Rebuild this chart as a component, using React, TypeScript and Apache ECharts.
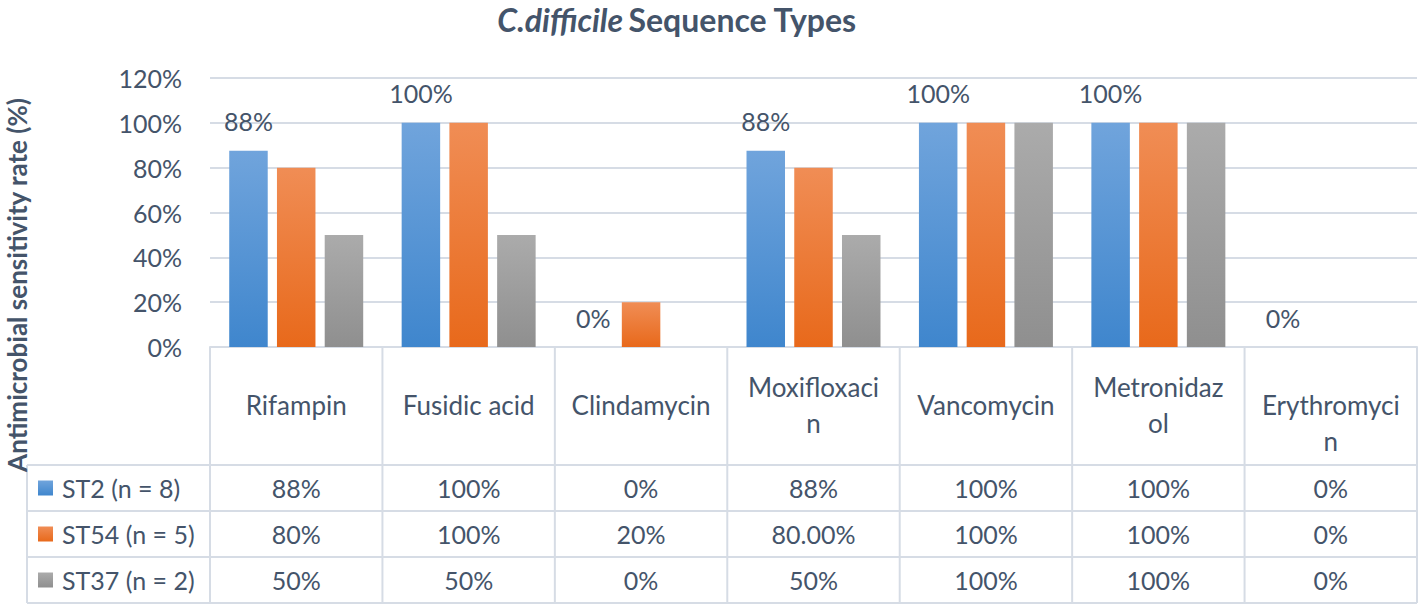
import React, { useEffect, useRef } from "react";
import * as echarts from "echarts";

const categories = ["Rifampin", "Fusidic acid", "Clindamycin", "Moxifloxaci\nn", "Vancomycin", "Metronidaz\nol", "\nErythromyci\nn"];
const seriesNames = ["ST2 (n = 8)", "ST54 (n = 5)", "ST37 (n = 2)"];
const st2 = [0.875, 1, 0, 0.875, 1, 1, 0];
const st54 = [0.8, 1, 0.2, 0.8, 1, 1, 0];
const st37 = [0.5, 0.5, 0, 0.5, 1, 1, 0];
const yTicks = [0, 0.2, 0.4, 0.6, 0.8, 1.0, 1.2];
// cells of the data table printed with decimals
const tableDecimals: Record<string, number> = { "1-3": 2 };

const W = 1419;
const H = 606;
const FONT = "Lato, 'Open Sans', sans-serif";
const TXT = "#44546a";
const LINE = "#d6dce5";

const pct = (v: number, d = 0) => (v * 100).toFixed(d) + "%";

const grad = (top: string, bottom: string) =>
  new echarts.graphic.LinearGradient(0, 0, 0, 1, [
    { offset: 0, color: top },
    { offset: 1, color: bottom },
  ]);

const colors = [
  ["#70a4dc", "#3f86cd"],
  ["#f08d55", "#e8691b"],
  ["#ababab", "#8f8f8f"],
];

export default function App() {
  const ref = useRef<HTMLDivElement>(null);
  useEffect(() => {
    if (!ref.current) return;
    const chart = echarts.init(ref.current, undefined, { renderer: "svg" });
    const gridLeft = 210;
    const gridRight = 2;
    const gridTop = 78;
    const axisY = 347;
    const plotW = W - gridLeft - gridRight;
    const colW = plotW / categories.length;
    const headerBottom = 465;
    const rowH = 46;
    const legendLeft = 27;
    const rowsData = [st2, st54, st37];
    const graphics: any[] = [];
    const tableBottom = headerBottom + rowH * rowsData.length;

    for (let i = 0; i <= categories.length; i++) {
      const x = gridLeft + colW * i;
      graphics.push({
        type: "line",
        shape: { x1: x, y1: axisY, x2: x, y2: tableBottom },
        style: { stroke: LINE, lineWidth: 2 },
        silent: true,
      });
    }
    graphics.push({
      type: "line",
      shape: { x1: legendLeft, y1: headerBottom, x2: legendLeft, y2: tableBottom },
      style: { stroke: LINE, lineWidth: 2 },
    });
    for (let r = 0; r <= rowsData.length; r++) {
      const y = headerBottom + rowH * r;
      graphics.push({
        type: "line",
        shape: { x1: legendLeft, y1: y, x2: W - gridRight, y2: y },
        style: { stroke: LINE, lineWidth: 2 },
      });
    }
    rowsData.forEach((row, r) => {
      const cy = headerBottom + rowH * r + rowH / 2;
      graphics.push({
        type: "rect",
        shape: { x: 38, y: cy - 7.5, width: 15, height: 15 },
        style: { fill: grad(colors[r][0], colors[r][1]) },
      });
      graphics.push({
        type: "text",
        x: 62,
        y: cy,
        style: {
          text: seriesNames[r],
          font: `25px ${FONT}`,
          fill: TXT,
          verticalAlign: "middle",
          align: "left",
        },
      });
      row.forEach((v, c) => {
        const d = tableDecimals[`${r}-${c}`] ?? 0;
        graphics.push({
          type: "text",
          x: gridLeft + colW * c + colW / 2,
          y: cy,
          style: {
            text: pct(v, d),
            font: `25px ${FONT}`,
            fill: TXT,
            align: "center",
            verticalAlign: "middle",
          },
        });
      });
    });
    graphics.push({
      type: "text",
      x: 17,
      y: 285,
      rotation: Math.PI / 2,
      style: {
        text: "Antimicrobial sensitivity rate (%)",
        font: `bold 26px ${FONT}`,
        fill: TXT,
        align: "center",
        verticalAlign: "middle",
      },
    });

    const barStyle = (i: number) => ({
      color: grad(colors[i][0], colors[i][1]),
    });

    chart.setOption({
      animation: false,
      title: {
        text: "{i|C.difficile} {b|Sequence Types}",
        left: 672,
        textAlign: "center",
        top: -2,
        textStyle: {
          rich: {
            i: { fontStyle: "italic", fontWeight: "bold", fontSize: 32, fontFamily: FONT, color: TXT },
            b: { fontWeight: "bold", fontSize: 32, fontFamily: FONT, color: TXT },
          },
        },
      },
      grid: { left: gridLeft, right: gridRight, top: gridTop, bottom: H - axisY, containLabel: false },
      xAxis: {
        type: "category",
        data: categories,
        axisLine: { show: true, lineStyle: { color: LINE, width: 2 } },
        axisTick: { show: false },
        axisLabel: {
          interval: 0,
          margin: 58,
          verticalAlign: "middle",
          lineHeight: 36,
          fontSize: 26,
          fontFamily: FONT,
          color: TXT,
        },
      },
      yAxis: {
        type: "value",
        min: 0,
        max: 1.2,
        interval: 0.2,
        axisLine: { show: false },
        axisTick: { show: false },
        splitLine: { lineStyle: { color: LINE, width: 2 } },
        axisLabel: {
          margin: 28,
          fontSize: 25,
          fontFamily: FONT,
          color: TXT,
          formatter: (v: number) => (yTicks.some((t) => Math.abs(t - v) < 1e-9) ? pct(v) : ""),
        },
      },
      series: [
        {
          name: seriesNames[0],
          type: "bar",
          data: st2,
          barWidth: 38.5,
          barGap: "24%",
          itemStyle: barStyle(0),
          label: {
            show: true,
            position: "top",
            distance: 17,
            fontSize: 25,
            fontFamily: FONT,
            color: TXT,
            formatter: (p: any) => pct(p.value),
          },
        },
        { name: seriesNames[1], type: "bar", data: st54, barWidth: 38.5, barGap: "24%", itemStyle: barStyle(1) },
        { name: seriesNames[2], type: "bar", data: st37, barWidth: 38.5, barGap: "24%", itemStyle: barStyle(2) },
      ],
      graphic: graphics,
    });
    return () => chart.dispose();
  }, []);
  return <div ref={ref} style={{ position: "fixed", left: 0, top: 0, width: W, height: H, background: "#fff" }} />;
}
